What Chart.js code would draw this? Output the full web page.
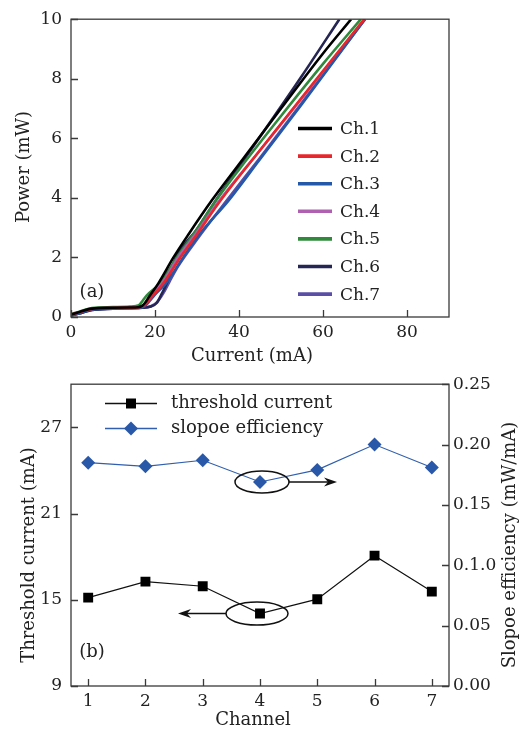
<!DOCTYPE html>
<html><head><meta charset="utf-8">
<script src="https://cdn.jsdelivr.net/npm/chart.js@4"></script>
<style>
html,body{margin:0;padding:0;background:#fff;}
#wrap{position:relative;width:525px;height:734px;overflow:hidden;background:#fff;}
#c1{position:absolute;left:0;top:0;}
#c2{position:absolute;left:0;top:365px;}
</style></head><body>
<div id="wrap"><canvas id="c1" width="525" height="365"></canvas><canvas id="c2" width="525" height="369"></canvas></div>
<script>
const FONT = '"DejaVu Serif", serif';
const TXT = '#222';

// ---- (a) L-I curves ----
const channelNames = ['Ch.1','Ch.2','Ch.3','Ch.4','Ch.5','Ch.6','Ch.7'];
const channelColors = ['#000000','#e8262b','#2458a8','#b060b0','#2f8a3c','#262654','#5a4ea6'];

const ch1Current = [0,2,5,10,14,16,17,17.6,18.5,20.8,24.4,28,33.5,40,50,60,66.7];
const ch1Power   = [0.08,0.17,0.28,0.31,0.32,0.33,0.38,0.47,0.66,1.13,2.0,2.78,3.91,5.13,7.0,8.85,10];
const ch2Current = [0,2,5,10,14,16,17,18,19.5,22,26,30,35.6,45,55,69.8];
const ch2Power   = [0.08,0.16,0.27,0.3,0.31,0.32,0.36,0.47,0.72,1.13,2.0,2.78,3.91,5.6,7.38,10];
const ch3Current = [0,2,5,10,14,16,17.5,18.5,20,22.6,26.7,31,37.5,45,55,70];
const ch3Power   = [0.05,0.13,0.25,0.28,0.29,0.3,0.36,0.5,0.75,1.13,2.0,2.85,3.91,5.3,7.15,10];
const ch4Current = [0,2,5,10,14,16,17,18,19.5,22,25.5,30,35,45,55,70];
const ch4Power   = [0.08,0.16,0.27,0.3,0.31,0.32,0.37,0.5,0.78,1.2,2.0,2.85,3.85,5.6,7.35,10];
const ch5Current = [0,2,5,10,14,15.5,16.3,16.8,18,21.2,25.2,29,34.5,40,50,60,69];
const ch5Power   = [0.1,0.18,0.3,0.33,0.35,0.37,0.41,0.5,0.72,1.13,2.0,2.75,3.91,4.95,6.75,8.5,10];
const ch6Current = [0,2,5,10,14,17,19,20.4,21.5,22.8,24,24.8,30,34.4,45,55,63.9];
const ch6Power   = [0.05,0.12,0.24,0.28,0.3,0.31,0.35,0.47,0.75,1.13,1.62,1.95,2.95,3.9,6.05,8.1,10];
const ch7Current = [0,2,5,10,14,17,19,20.5,22,23.5,25.5,30,37,45,55,70];
const ch7Power   = [0.05,0.12,0.24,0.28,0.3,0.31,0.36,0.5,0.8,1.2,1.7,2.6,3.9,5.35,7.2,10];

const currentTicks = [0,20,40,60,80];
const powerTicks = [0,2,4,6,8,10];

// ---- (b) threshold / slope ----
const channels = [1,2,3,4,5,6,7];
const thresholdCurrent = [15.15,16.26,15.94,14.04,15.04,18.07,15.57];
const slopeEfficiency  = [0.185,0.182,0.187,0.169,0.179,0.200,0.181];
const thresholdTicks = [9,15,21,27];
const slopeTicks = [0,0.05,0.1,0.15,0.2,0.25];
const slopeTickLabels = ['0.00','0.05','0.1.0','0.15','0.20','0.25'];

const curveCurrents = [ch1Current,ch2Current,ch3Current,ch4Current,ch5Current,ch6Current,ch7Current];
const curvePowers = [ch1Power,ch2Power,ch3Power,ch4Power,ch5Power,ch6Power,ch7Power];

function pts(xs, ys){ return xs.map((x,i)=>({x:x,y:ys[i]})); }
function setTicks(list){ return s => { s.ticks = list.map(v=>({value:v})); }; }

function text(ctx, s, x, y, size, rot){
  ctx.save(); ctx.translate(x,y); if(rot) ctx.rotate(rot);
  ctx.font = size+'px '+FONT; ctx.fillStyle = TXT; ctx.textAlign='center'; ctx.textBaseline='middle';
  ctx.fillText(s,0,0); ctx.restore();
}

function makeFrame(extraDraw){
  return {
    id:'frame',
    afterDatasetsDraw(chart){
      const ctx = chart.ctx, a = chart.chartArea;
      ctx.save();
      ctx.strokeStyle = '#3a3a3a'; ctx.lineWidth = 1.3;
      ctx.strokeRect(a.left, a.top, a.right-a.left, a.bottom-a.top);
      ctx.beginPath();
      for (const id in chart.scales){
        const s = chart.scales[id], len = 7;
        s.ticks.forEach(t=>{
          const p = Math.round(s.getPixelForValue(t.value))+0.5;
          if (s.position==='bottom'){ ctx.moveTo(p,a.bottom); ctx.lineTo(p,a.bottom-len); }
          else if (s.position==='left'){ ctx.moveTo(a.left,p); ctx.lineTo(a.left+len,p); }
          else if (s.position==='right'){ ctx.moveTo(a.right,p); ctx.lineTo(a.right-len,p); }
        });
      }
      ctx.stroke();
      ctx.restore();
      extraDraw(chart);
    }
  };
}

function baseScale(extra){
  return Object.assign({
    type:'linear',
    grid:{display:false, drawTicks:false},
    border:{display:false}
  }, extra);
}
function tickOpts(pad, extra){
  return Object.assign({font:{family:FONT,size:17}, color:TXT, autoSkip:false, maxRotation:0, padding:pad}, extra||{});
}

// ---------- Chart (a) ----------
function drawA(chart){
  const ctx = chart.ctx;
  text(ctx,'Power (mW)',24,167,18,-Math.PI/2);
  text(ctx,'Current (mA)',252,356,18,0);
  text(ctx,'(a)',92,292,18,0);
  chart.data.datasets.forEach((d,i)=>{
    const y = 128.5 + i*27.6;
    ctx.save(); ctx.strokeStyle=d.borderColor; ctx.lineWidth=3.6;
    ctx.beginPath(); ctx.moveTo(298,y); ctx.lineTo(332,y); ctx.stroke(); ctx.restore();
    ctx.save(); ctx.font='17px '+FONT; ctx.fillStyle=TXT; ctx.textAlign='left'; ctx.textBaseline='middle';
    ctx.fillText(d.label,340,y+1); ctx.restore();
  });
}

new Chart(document.getElementById('c1'), {
  type:'scatter',
  data:{ datasets: channelNames.map((n,i)=>({
    label:n, data:pts(curveCurrents[i], curvePowers[i]), showLine:true,
    borderColor:channelColors[i], backgroundColor:channelColors[i], borderWidth:2.6,
    pointRadius:0, tension:0.35, cubicInterpolationMode:'monotone'
  }))},
  plugins:[makeFrame(drawA)],
  options:{
    responsive:false, animation:false, devicePixelRatio:1,
    layout:{padding:{top:17,right:76,left:0,bottom:0}},
    plugins:{ legend:{display:false}, tooltip:{enabled:false} },
    scales:{
      x: baseScale({position:'bottom', min:0, max:90, afterBuildTicks:setTicks(currentTicks), afterFit:s=>{s.height=48;}, ticks:tickOpts(5)}),
      y: baseScale({position:'left', min:0, max:10, afterBuildTicks:setTicks(powerTicks), afterFit:s=>{s.width=71;}, ticks:tickOpts(9)})
    }
  }
});

// ---------- Chart (b) ----------
function arrow(ctx,x1,y,x2){
  const dir = Math.sign(x2-x1);
  ctx.beginPath(); ctx.moveTo(x1,y); ctx.lineTo(x2-dir*4,y); ctx.stroke();
  ctx.beginPath(); ctx.moveTo(x2,y); ctx.lineTo(x2-dir*13,y-4.5); ctx.lineTo(x2-dir*9,y); ctx.lineTo(x2-dir*13,y+4.5); ctx.closePath(); ctx.fill();
}

function drawB(chart){
  const ctx = chart.ctx;
  text(ctx,'Threshold current (mA)',29,190,18,-Math.PI/2);
  text(ctx,'Slopoe efficiency (mW/mA)',510,180,18,-Math.PI/2);
  text(ctx,'Channel',253,355,18,0);
  text(ctx,'(b)',92,287,18,0);
  const rows = [38.5, 63.5];
  chart.data.datasets.forEach((d,i)=>{
    const y = rows[i];
    ctx.save(); ctx.strokeStyle=d.borderColor; ctx.lineWidth=1.3;
    ctx.beginPath(); ctx.moveTo(105,y); ctx.lineTo(157,y); ctx.stroke();
    ctx.fillStyle=d.pointBackgroundColor; ctx.beginPath();
    if (d.pointStyle==='rect'){ ctx.rect(131-5,y-5,10,10); }
    else { ctx.moveTo(131,y-7); ctx.lineTo(138,y); ctx.lineTo(131,y+7); ctx.lineTo(124,y); ctx.closePath(); }
    ctx.fill(); ctx.restore();
    ctx.save(); ctx.font='18px '+FONT; ctx.fillStyle=TXT; ctx.textAlign='left'; ctx.textBaseline='middle';
    ctx.fillText(d.label,171,y); ctx.restore();
  });
  const pS = chart.getDatasetMeta(1).data[3], pT = chart.getDatasetMeta(0).data[3];
  ctx.save(); ctx.strokeStyle='#111'; ctx.fillStyle='#111'; ctx.lineWidth=1.5;
  ctx.beginPath(); ctx.ellipse(pS.x+2, pS.y, 27, 11, 0, 0, Math.PI*2); ctx.stroke();
  arrow(ctx, pS.x+29, pS.y, pS.x+77);
  ctx.beginPath(); ctx.ellipse(pT.x-3, pT.y, 31, 11.5, 0, 0, Math.PI*2); ctx.stroke();
  arrow(ctx, pT.x-34, pT.y, pT.x-82);
  ctx.restore();
}

new Chart(document.getElementById('c2'), {
  type:'line',
  data:{ datasets:[
    { label:'threshold current', yAxisID:'yL', data:pts(channels,thresholdCurrent),
      borderColor:'#111', backgroundColor:'#000', borderWidth:1.2,
      pointStyle:'rect', pointRadius:7, pointBorderWidth:0, pointBackgroundColor:'#000' },
    { label:'slopoe efficiency', yAxisID:'yR', data:pts(channels,slopeEfficiency),
      borderColor:'#2f5fae', backgroundColor:'#2a58a8', borderWidth:1.2,
      pointStyle:'rectRot', pointRadius:7, pointBorderWidth:0, pointBackgroundColor:'#2a58a8' }
  ]},
  plugins:[makeFrame(drawB)],
  options:{
    responsive:false, animation:false, devicePixelRatio:1,
    layout:{padding:{top:18,right:0,left:0,bottom:0}},
    plugins:{ legend:{display:false}, tooltip:{enabled:false} },
    scales:{
      x: baseScale({position:'bottom', min:0.7, max:7.3, afterBuildTicks:setTicks(channels), afterFit:s=>{s.height=48;}, ticks:tickOpts(5)}),
      yL: baseScale({position:'left', min:9, max:30, afterBuildTicks:setTicks(thresholdTicks), afterFit:s=>{s.width=71;}, ticks:tickOpts(9)}),
      yR: baseScale({position:'right', min:0, max:0.25, afterBuildTicks:setTicks(slopeTicks), afterFit:s=>{s.width=76;},
        ticks:tickOpts(4,{callback:(v,i)=>slopeTickLabels[i]})})
    }
  }
});
</script>
</body></html>
